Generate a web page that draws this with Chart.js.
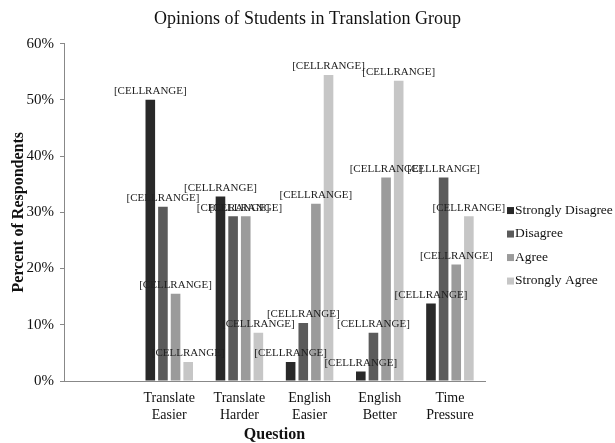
<!DOCTYPE html>
<html>
<head>
    <meta charset="utf-8">
    <script src="https://cdn.jsdelivr.net/npm/chart.js"></script>
    <style>
        body { margin: 0; background: #fff; }
        #wrap { width: 615px; height: 443px; }
    </style>
</head>
<body>
    <div id="wrap">
        <canvas id="myChart" width="615" height="443"></canvas>
    </div>
    <script>
        // categories (first one is an empty slot, as in the original)
        const questions = ['', ['Translate', 'Easier'], ['Translate', 'Harder'], ['English', 'Easier'], ['English', 'Better'], ['Time', 'Pressure']];
        const seriesNames = ['Strongly Disagree', 'Disagree', 'Agree', 'Strongly Agree'];
        const stronglyDisagree = [null, 50.0, 32.8, 3.4, 1.7, 13.8];
        const disagree = [null, 31.0, 29.3, 10.3, 8.6, 36.2];
        const agree = [null, 15.5, 29.3, 31.5, 36.2, 20.7];
        const stronglyAgree = [null, 3.4, 8.6, 54.4, 53.4, 29.3];
        const yTicks = [0, 10, 20, 30, 40, 50, 60];
        const dataLabel = '[CELLRANGE]';

        const greys = ['#292929', '#5b5b5b', '#9b9b9b', '#c6c6c6'];
        const serif = "'Liberation Serif', 'Times New Roman', serif";

        // writes the [CELLRANGE] label above every bar
        const barLabels = {
            id: 'barLabels',
            afterDatasetsDraw(chart) {
                const ctx = chart.ctx;
                ctx.save();
                ctx.font = '11px ' + serif;
                ctx.fillStyle = '#222';
                ctx.textAlign = 'center';
                ctx.textBaseline = 'bottom';
                chart.data.datasets.forEach((ds, i) => {
                    chart.getDatasetMeta(i).data.forEach((bar, j) => {
                        if (ds.data[j] == null) return;
                        ctx.fillText(dataLabel, bar.x, bar.y - 3);
                    });
                });
                ctx.restore();
            }
        };

        // legend on the right, small square then the name
        const sideLegend = {
            id: 'sideLegend',
            afterDraw(chart) {
                const ctx = chart.ctx;
                const area = chart.chartArea;
                const rowH = 23.5;
                const n = chart.data.datasets.length;
                const midY = (area.top + area.bottom) / 2 + 33;
                const x0 = area.right + 22;
                ctx.save();
                ctx.font = '13.5px ' + serif;
                ctx.textAlign = 'left';
                ctx.textBaseline = 'middle';
                chart.data.datasets.forEach((ds, i) => {
                    const y = midY + (i - (n - 1) / 2) * rowH;
                    ctx.fillStyle = ds.backgroundColor;
                    ctx.fillRect(x0, y - 3, 7, 7);
                    ctx.fillStyle = '#111';
                    ctx.fillText(ds.label, x0 + 8, y);
                });
                ctx.restore();
            }
        };

        const data = {
            labels: questions,
            datasets: [stronglyDisagree, disagree, agree, stronglyAgree].map((vals, i) => ({
                label: seriesNames[i],
                data: vals,
                backgroundColor: greys[i],
                borderWidth: 0,
                categoryPercentage: 0.72,
                barPercentage: 0.76
            }))
        };

        const config = {
            type: 'bar',
            data: data,
            options: {
                responsive: false,
                animation: false,
                layout: { padding: 0 },
                plugins: {
                    title: {
                        display: true,
                        text: 'Opinions of Students in Translation Group',
                        color: '#111',
                        font: { family: serif, size: 18, weight: 'normal' },
                        padding: { top: 8, bottom: 14 }
                    },
                    legend: { display: false },
                    tooltip: { enabled: false }
                },
                scales: {
                    x: {
                        grid: { display: false },
                        border: { color: '#888', width: 1 },
                        ticks: {
                            color: '#111',
                            font: { family: serif, size: 14, lineHeight: 1.2 },
                            padding: 1,
                            maxRotation: 0,
                            autoSkip: false
                        },
                        title: {
                            display: true,
                            text: 'Question',
                            color: '#111',
                            font: { family: serif, size: 16, weight: 'bold' },
                            padding: { top: 0, bottom: -1.5 }
                        },
                        afterFit: s => { s.height = 62; }
                    },
                    y: {
                        min: 0,
                        max: 60,
                        afterBuildTicks: s => { s.ticks = yTicks.map(v => ({ value: v })); },
                        grid: { display: true, drawOnChartArea: false, tickLength: 4, color: '#888' },
                        border: { color: '#888', width: 1 },
                        ticks: {
                            color: '#111',
                            font: { family: serif, size: 15 },
                            padding: 6,
                            callback: v => v + '%'
                        },
                        title: {
                            display: true,
                            text: 'Percent of Respondents',
                            color: '#111',
                            font: { family: serif, size: 16, weight: 'bold' },
                            padding: { top: 9, bottom: 4 }
                        },
                        afterFit: s => { s.width = 64; }
                    },
                    // empty space on the right that holds the legend
                    legendSpace: {
                        position: 'right',
                        display: true,
                        min: 0,
                        max: 1,
                        grid: { display: false },
                        border: { display: false },
                        ticks: { display: false },
                        afterFit: s => { s.width = 130; }
                    }
                }
            },
            plugins: [barLabels, sideLegend]
        };

        const myChart = new Chart(document.getElementById('myChart'), config);
    </script>
</body>
</html>
